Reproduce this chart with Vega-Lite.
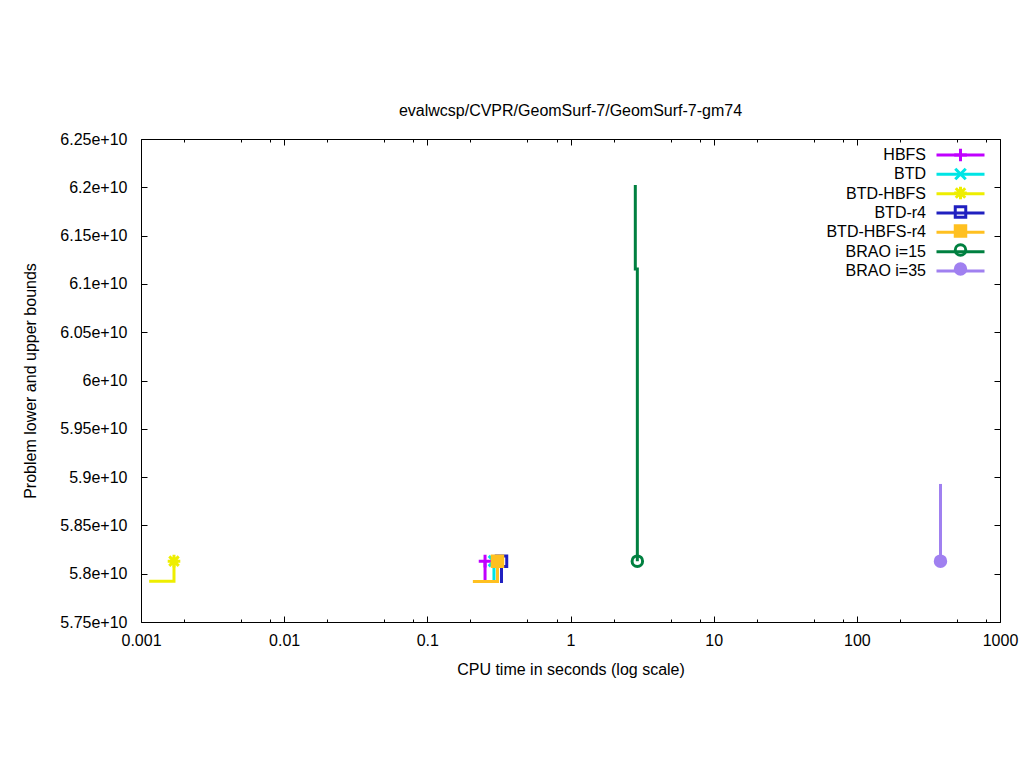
{
  "$schema": "https://vega.github.io/schema/vega-lite/v6.json",
  "width": 859,
  "height": 483,
  "autosize": {"type": "none"},
  "padding": {"left": 141, "top": 139, "right": 24, "bottom": 146},
  "background": "white",
  "title": {
    "text": "evalwcsp/CVPR/GeomSurf-7/GeomSurf-7-gm74",
    "font": "Liberation Sans",
    "fontSize": 16,
    "fontWeight": "normal",
    "color": "black",
    "anchor": "middle",
    "offset": 12
  },
  "datasets": {
    "lines": [
      {"algo": "HBFS", "seg": "HBFS-lb", "k": 0, "t": 0.253, "v": 57935000000},
      {"algo": "HBFS", "seg": "HBFS-lb", "k": 1, "t": 0.253, "v": 58130000000},
      {"algo": "BTD", "seg": "BTD-lb", "k": 0, "t": 0.292, "v": 57935000000},
      {"algo": "BTD", "seg": "BTD-lb", "k": 1, "t": 0.292, "v": 58130000000},
      {"algo": "BTD-HBFS", "seg": "BTD-HBFS-lb", "k": 0, "t": 0.00114, "v": 57921000000},
      {"algo": "BTD-HBFS", "seg": "BTD-HBFS-lb", "k": 1, "t": 0.0017, "v": 57921000000},
      {"algo": "BTD-HBFS", "seg": "BTD-HBFS-lb", "k": 2, "t": 0.0017, "v": 58130000000},
      {"algo": "BTD-r4", "seg": "BTD-r4-lb", "k": 0, "t": 0.3296, "v": 57904000000},
      {"algo": "BTD-r4", "seg": "BTD-r4-lb", "k": 1, "t": 0.3296, "v": 58130000000},
      {"algo": "BTD-HBFS-r4", "seg": "BTD-HBFS-r4-lb", "k": 0, "t": 0.208, "v": 57919000000},
      {"algo": "BTD-HBFS-r4", "seg": "BTD-HBFS-r4-lb", "k": 1, "t": 0.309, "v": 57919000000},
      {"algo": "BTD-HBFS-r4", "seg": "BTD-HBFS-r4-lb", "k": 2, "t": 0.309, "v": 58130000000},
      {"algo": "BRAO i=15", "seg": "BRAO15-ub", "k": 0, "t": 2.836, "v": 62024000000},
      {"algo": "BRAO i=15", "seg": "BRAO15-ub", "k": 1, "t": 2.836, "v": 61154000000},
      {"algo": "BRAO i=15", "seg": "BRAO15-ub", "k": 2, "t": 2.93, "v": 61154000000},
      {"algo": "BRAO i=15", "seg": "BRAO15-ub", "k": 3, "t": 2.93, "v": 58130000000},
      {"algo": "BRAO i=35", "seg": "BRAO35-ub", "k": 0, "t": 383.9, "v": 58929000000},
      {"algo": "BRAO i=35", "seg": "BRAO35-ub", "k": 1, "t": 383.9, "v": 58130000000}
    ],
    "marks": [
      {"name": "HBFS", "t": 0.253, "v": 58130000000},
      {"name": "BTD", "t": 0.292, "v": 58130000000},
      {"name": "BTD-HBFS", "t": 0.0017, "v": 58130000000},
      {"name": "BTD-r4", "t": 0.3296, "v": 58130000000},
      {"name": "BTD-HBFS-r4", "t": 0.309, "v": 58130000000},
      {"name": "BRAO i=15", "t": 2.93, "v": 58130000000},
      {"name": "BRAO i=35", "t": 383.9, "v": 58130000000}
    ]
  },
  "resolve": {"axis": {"x": "independent", "y": "independent"}},
  "layer": [
    {
      "data": {"name": "lines"},
      "mark": {"type": "line", "strokeWidth": 3, "strokeCap": "butt", "clip": true},
      "encoding": {
        "x": {
          "field": "t", "type": "quantitative",
          "scale": {"type": "log", "domain": [0.001, 1000], "nice": false},
          "axis": {
            "orient": "bottom",
            "values": [0.001, 0.002, 0.005, 0.008, 0.01, 0.02, 0.05, 0.08, 0.1, 0.2, 0.5, 0.8, 1, 2, 5, 8, 10, 20, 50, 80, 100, 200, 500, 800, 1000],
            "labelExpr": "abs(log(datum.value)/LN10 - round(log(datum.value)/LN10)) < 0.01 ? format(datum.value, '~g') : ''",
            "tickSize": {"condition": {"test": "abs(log(datum.value)/LN10 - round(log(datum.value)/LN10)) < 0.01", "value": -6}, "value": -3},
            "tickColor": "black",
            "labelPadding": 16,
            "labelFlush": false,
            "labelOverlap": false,
            "domain": false,
            "grid": false,
            "title": "CPU time in seconds (log scale)",
            "titlePadding": 10
          }
        },
        "y": {
          "field": "v", "type": "quantitative",
          "scale": {"domain": [57500000000, 62500000000], "nice": false, "zero": false},
          "axis": {
            "orient": "left",
            "values": [57500000000, 58000000000, 58500000000, 59000000000, 59500000000, 60000000000, 60500000000, 61000000000, 61500000000, 62000000000, 62500000000],
            "labelExpr": "format(datum.value/1e10, '.3~g') + 'e+10'",
            "tickSize": -6,
            "tickColor": "black",
            "labelPadding": 20,
            "labelFlush": false,
            "labelOverlap": false,
            "domain": false,
            "grid": false,
            "title": "Problem lower and upper bounds",
            "titlePadding": 21
          }
        },
        "color": {
          "field": "algo", "type": "nominal",
          "scale": {
            "domain": ["HBFS", "BTD", "BTD-HBFS", "BTD-r4", "BTD-HBFS-r4", "BRAO i=15", "BRAO i=35"],
            "range": ["#c000ff", "#00e5e5", "#eeee00", "#2020c0", "#ffc020", "#008040", "#a080f0"]
          },
          "legend": {
            "orient": "none",
            "legendX": 811.5,
            "legendY": 8,
            "title": null,
            "padding": 0,
            "symbolType": "M-4,0L4,0",
            "symbolSize": 144,
            "symbolStrokeWidth": 3,
            "labelAlign": "right",
            "labelOffset": -42.5,
            "labelFontSize": 16,
            "labelColor": "black",
            "labelLimit": 300,
            "rowPadding": 3.34,
            "encode": {
              "symbols": {
                "update": {
                  "stroke": {"scale": "color", "field": "value"},
                  "strokeWidth": {"value": 3},
                  "opacity": {"value": 1}
                }
              }
            }
          }
        },
        "detail": {"field": "seg", "type": "nominal"},
        "order": {"field": "k", "type": "quantitative"}
      }
    },
    {
      "data": {"name": "marks"},
      "mark": {"type": "point", "size": 110, "strokeWidth": 3, "opacity": 1, "clip": true},
      "encoding": {
        "x": {
          "field": "t", "type": "quantitative",
          "axis": {
            "orient": "top",
            "values": [0.001, 0.002, 0.005, 0.008, 0.01, 0.02, 0.05, 0.08, 0.1, 0.2, 0.5, 0.8, 1, 2, 5, 8, 10, 20, 50, 80, 100, 200, 500, 800, 1000],
            "labels": false,
            "tickSize": {"condition": {"test": "abs(log(datum.value)/LN10 - round(log(datum.value)/LN10)) < 0.01", "value": -6}, "value": -3},
            "tickColor": "black",
            "domain": false,
            "grid": false,
            "title": null
          }
        },
        "y": {
          "field": "v", "type": "quantitative",
          "axis": {
            "orient": "right",
            "values": [57500000000, 58000000000, 58500000000, 59000000000, 59500000000, 60000000000, 60500000000, 61000000000, 61500000000, 62000000000, 62500000000],
            "labels": false,
            "tickSize": -6,
            "tickColor": "black",
            "domain": false,
            "grid": false,
            "title": null
          }
        },
        "stroke": {
          "field": "name", "type": "nominal", "sort": null,
          "scale": {"range": ["#c000ff", "#00e5e5", "#eeee00", "#2020c0", "#ffc020", "#008040", "#a080f0"]},
          "legend": {
            "orient": "none",
            "legendX": 811.5,
            "legendY": 6.75,
            "title": null,
            "padding": 0,
            "symbolSize": 110,
            "symbolStrokeWidth": 3,
            "labelExpr": "''",
            "clipHeight": 18.5,
            "rowPadding": 0
          }
        },
        "fill": {
          "field": "name", "type": "nominal", "sort": null,
          "scale": {"range": ["transparent", "transparent", "transparent", "transparent", "#ffc020", "transparent", "#a080f0"]}
        },
        "shape": {
          "field": "name", "type": "nominal", "sort": null,
          "scale": {"range": ["M-1.2,0L1.2,0M0,-1.2L0,1.2", "M-1,-1L1,1M-1,1L1,-1", "M-1.2,0L1.2,0M0,-1.2L0,1.2M-0.9,-0.9L0.9,0.9M-0.9,0.9L0.9,-0.9", "square", "square", "circle", "circle"]}
        }
      }
    }
  ],
  "config": {
    "font": "Liberation Sans",
    "view": {"stroke": "black", "strokeWidth": 1},
    "axis": {
      "labelFont": "Liberation Sans",
      "labelFontSize": 16,
      "labelColor": "black",
      "titleFont": "Liberation Sans",
      "titleFontSize": 16,
      "titleFontWeight": "normal",
      "titleColor": "black",
      "tickWidth": 1
    },
    "legend": {
      "labelFont": "Liberation Sans",
      "labelFontSize": 16,
      "labelColor": "black"
    }
  }
}
